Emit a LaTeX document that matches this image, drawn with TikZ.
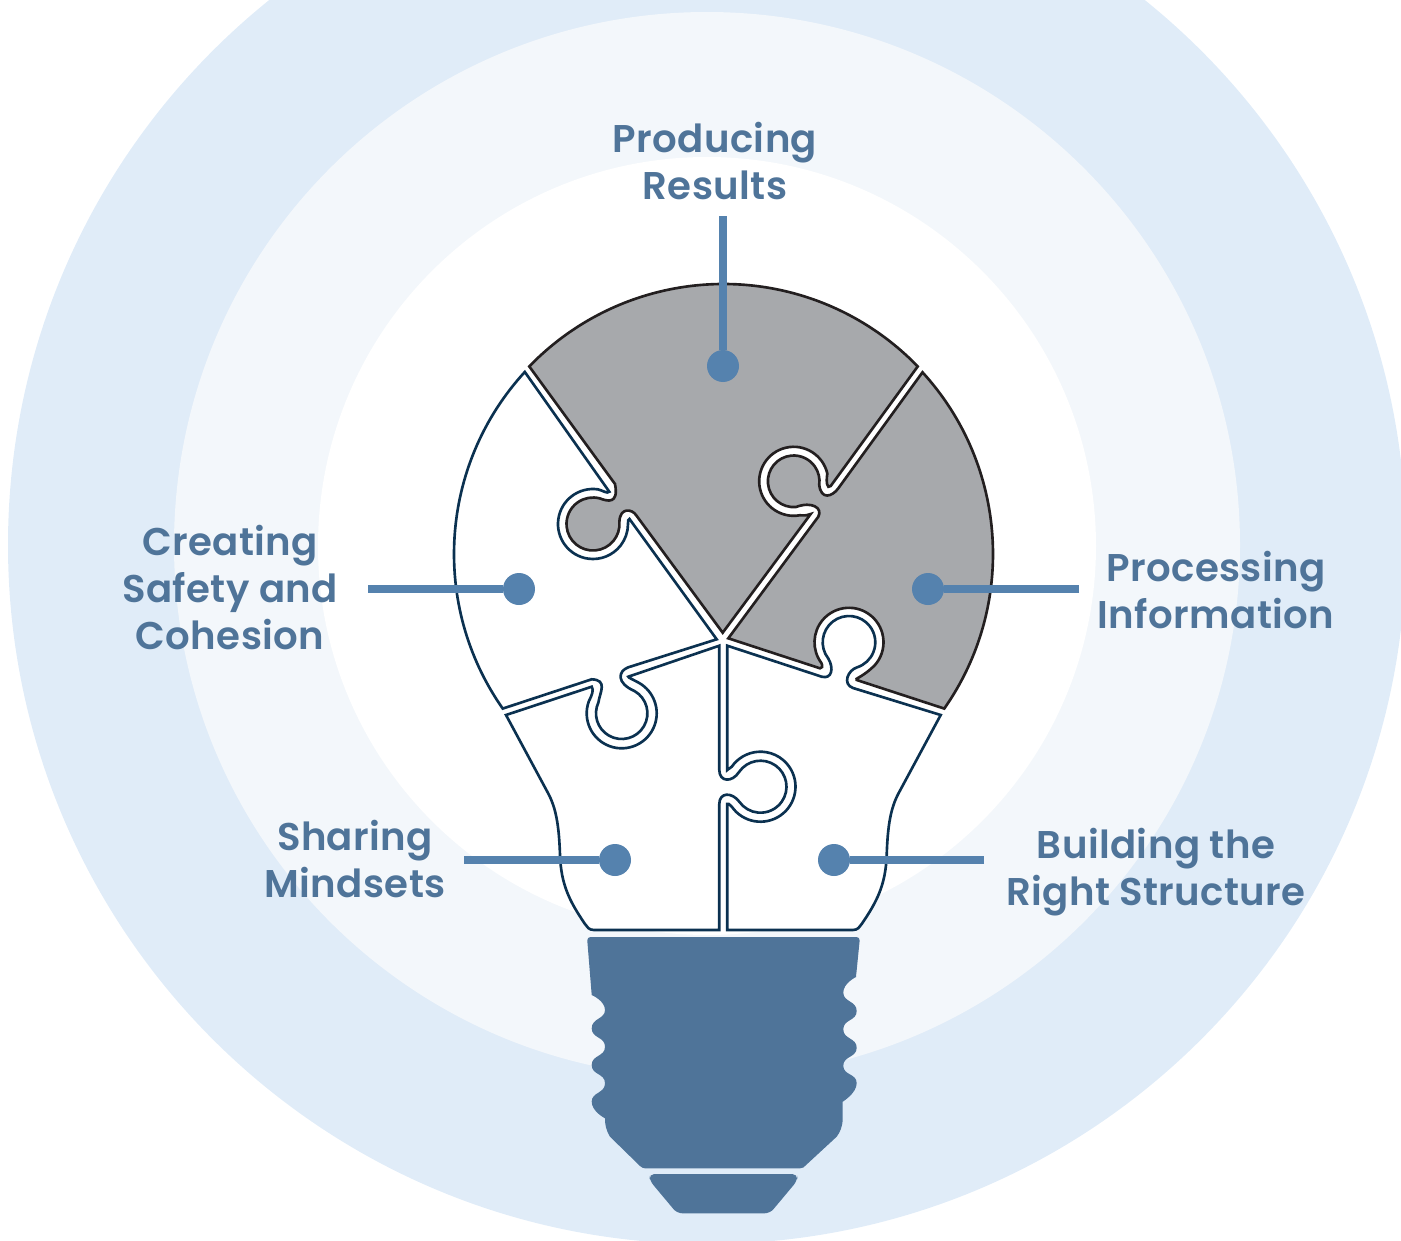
\documentclass[tikz,border=0pt]{standalone}
\usepackage{fontspec}
\setmainfont{Poppins}[BoldFont={Poppins SemiBold}, BoldFeatures={LetterSpace=1}]
\usetikzlibrary{calc}

\begin{document}
\begin{tikzpicture}[x=.02cm, y=-.02cm,
  dot/.style={circle, fill=leaderblue, inner sep=0pt, minimum size=.64cm},
  leader/.style={draw=leaderblue, line width=4.2pt},
  graypiece/.style={fill=piecegray, draw=piecedark, line width=1.5pt},
  whitepiece/.style={fill=white, draw=piecenavy, line width=1.5pt},
  label/.style={text=labelblue, font=\fontsize{22}{26.7}\selectfont\bfseries, align=center}]

%─────────────
% Controls
%─────────────
\definecolor{outerring}{HTML}{E0ECF8}
\definecolor{middlering}{HTML}{F3F7FB}
\definecolor{piecegray}{HTML}{A7A9AC}
\definecolor{piecedark}{HTML}{231F20}
\definecolor{piecenavy}{HTML}{0B3150}
\definecolor{leaderblue}{HTML}{5582AE}
\definecolor{basefill}{HTML}{4F7499}
\definecolor{labelblue}{HTML}{4F7499}

\useasboundingbox (0,0) rectangle (1401,1241);
\clip (0,0) rectangle (1401,1241);

%─────────────
% Rings
%─────────────
\fill[outerring] (707,545) circle[radius=699];
\fill[middlering] (707,545) circle[radius=533];
\fill[white] (707,546) circle[radius=389];

%─────────────
% Centres of the bulb and of the puzzle tabs
%─────────────
\coordinate (bulbC) at (723.5,554);
\coordinate (ringA) at (793.7,481.3);
\coordinate (ringB) at (593,524);
\coordinate (ringC) at (621.7,713.3);
\coordinate (ringD) at (760.5,786.7);
\coordinate (ringE) at (849,642.3);

%─────────────
% Puzzle pieces
%─────────────
% top piece
\filldraw[graypiece] ($(bulbC)+(224:270)$) arc[start angle=224, end angle=316, radius=270]
  -- (830.7,486) .. controls (827,489.5) and (826,482) .. ($(ringA)+(-13:34.5)$)
  arc[start angle=-13, end angle=-280, radius=34.5]
  .. controls (805,515.5) and (808,515.5) .. (810.7,514)
  -- (722.7,632.7) -- (636,515)
  .. controls (632,509) and (620,507) .. ($(ringB)+(-5:26.5)$)
  arc[start angle=-5, end angle=285, radius=26.5]
  .. controls (607,501) and (619,505) .. (615,484) -- cycle;

% right piece
\filldraw[graypiece] ($(bulbC)+(-42.4:269.5)$) arc[start angle=-42.4, end angle=35, radius=269.5]
  -- (856.7,680) .. controls (854,678.5) and (862,678) .. ($(ringE)+(41:34.5)$)
  arc[start angle=41, end angle=-217, radius=34.5]
  .. controls (823,666) and (822,669) .. (820,668.3)
  -- (728.3,638.3) -- (818.3,516.7)
  .. controls (823,508) and (812,501) .. ($(ringA)+(85:25.8)$)
  arc[start angle=85, end angle=368, radius=25.8]
  .. controls (821,500) and (832,497) .. (838.3,488.3) -- cycle;

% left piece
\filldraw[whitepiece] ($(bulbC)+(145:269.5)$) arc[start angle=145, end angle=222.5, radius=269.5]
  -- (609.3,491.7) .. controls (607,494) and (603,490.5) .. ($(ringB)+(-82:35)$)
  arc[start angle=-82, end angle=-360, radius=35]
  .. controls (628,521) and (628,519) .. (629.5,519)
  -- (716.7,639.3) -- (628.3,667.3)
  .. controls (618,671) and (616,683) .. ($(ringC)+(-60:25.7)$)
  arc[start angle=-60, end angle=205, radius=25.7]
  .. controls (600,692) and (608,680) .. (591.7,679.3) -- cycle;

% lower left piece
\filldraw[whitepiece] (506,715) -- (591.7,686.7)
  .. controls (594,690) and (592,695) .. ($(ringC)+(200:35)$)
  arc[start angle=200, end angle=-60, radius=35]
  .. controls (632,679) and (628,677.5) .. (628.3,676.7)
  -- (719.3,645.7) -- (719.3,770)
  .. controls (719.3,782) and (732,783) .. ($(ringD)+(-145:26)$)
  arc[start angle=-145, end angle=145, radius=26]
  .. controls (732,792) and (719.3,792) .. (719.3,804)
  -- (719.3,930) -- (594,930)
  .. controls (589,930) and (587,927) .. (585,924)
  .. controls (570,902) and (561,885) .. (560,855)
  .. controls (559,825) and (556,808) .. (548,793) -- cycle;

% lower right piece
\filldraw[whitepiece] (727.3,645.7) -- (821.7,676.7)
  .. controls (832,679.5) and (834,668) .. ($(ringE)+(142:26.3)$)
  arc[start angle=142, end angle=432, radius=26.3]
  .. controls (848,670) and (842,684) .. (853,688)
  -- (940.7,715) -- (898.7,793)
  .. controls (890.7,808) and (887.7,825) .. (886.7,855)
  .. controls (885.7,885) and (876.7,902) .. (861.7,924)
  .. controls (859.7,927) and (857.7,930) .. (852.7,930)
  -- (727.3,930) -- (727.3,804)
  .. controls (728,803) and (729,804) .. ($(ringD)+(145:35)$)
  arc[start angle=145, end angle=-145, radius=35]
  .. controls (729,769) and (728,769) .. (727.3,770) -- cycle;

%─────────────
% Lamp base
%─────────────
\fill[basefill, rounded corners=2pt] (723,937) -- (860,937) -- (856,977)
  [sharp corners] -- plot[smooth, tension=1] coordinates {(856,977) (843.3,992.7) (856.7,1011) (843.3,1029.3)
     (856.7,1047.7) (843.3,1065.7) (856.7,1083.3) (842.7,1101.7)}
  -- (842.7,1120) .. controls (842,1128) and (840,1132) .. (836.7,1136.7)
  -- (805,1166) .. controls (804,1167) and (803,1168.3) .. (800,1168.3)
  -- (645,1168.3) .. controls (643,1168.3) and (642,1167.5) .. (640,1166) -- (610,1136.7)
  .. controls (606,1130) and (605,1125) .. (605,1118.3)
  -- plot[smooth, tension=1] coordinates {(605,1118.3) (591.7,1101.7) (605,1083.3) (591.7,1065)
     (605,1046.7) (591.7,1028.3) (605,1010) (591.7,995)}
  [rounded corners=2pt] -- (587,937) -- cycle;
\fill[basefill, rounded corners=3pt] (649,1174) -- (797.7,1174) -- (797,1181)
  -- (770,1213.3) -- (677,1213.3) -- (650,1181) -- cycle;

%─────────────
% Leaders and dots
%─────────────
\foreach \name/\dotx/\doty/\endx/\endy in {
    results/723/366/723/216,
    safety/519/589/368/589,
    information/928/589/1079/589,
    mindsets/615/860/464/860,
    structure/834/860/984/860} {
  \node[dot] (\name) at (\dotx,\doty) {};
  \coordinate (\name End) at (\endx,\endy);
  \draw[leader] (\name End) -- (\name);
}

%─────────────
% Labels
%─────────────
\node[label] (resultsLabel) at (715,161) {Producing\\Results};
\node[label] (safetyLabel) at (230,587.5) {Creating\\Safety and\\Cohesion};
\node[label] (informationLabel) at (1216,590) {Processing\\Information};
\node[label] (mindsetsLabel) at (355,859) {Sharing\\Mindsets};
\node[label] (structureLabel) at (1156,872) {Building the\\Right Structure};

\end{tikzpicture}
\end{document}
